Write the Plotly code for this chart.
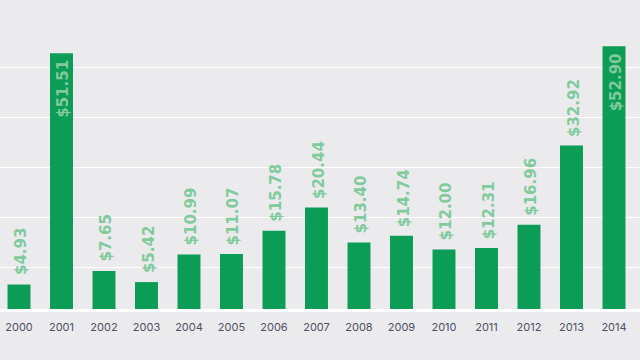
import plotly.graph_objects as go

years = [2000, 2001, 2002, 2003, 2004, 2005, 2006, 2007, 2008, 2009, 2010, 2011, 2012, 2013, 2014]
values = [4.93, 51.51, 7.65, 5.42, 10.99, 11.07, 15.78, 20.44, 13.40, 14.74, 12.00, 12.31, 16.96, 32.92, 52.90]
labels = ["$%.2f" % v for v in values]

BAR = "#0b9c56"
LABEL = "#80ca9c"
BG = "#ebebee"

fig = go.Figure()
fig.add_trace(go.Bar(x=years, y=values, marker=dict(color=BAR, line=dict(width=0)),
                     width=0.54, hoverinfo="skip"))

for x, v, t in zip(years, values, labels):
    inside = v > 45
    fig.add_annotation(x=x, y=v, xref="x", yref="y", text=t, showarrow=False,
                       textangle=-90, xanchor="center", xshift=2,
                       yanchor="top" if inside else "bottom",
                       yshift=-5 if inside else 7,
                       font=dict(family="DejaVu Sans, sans-serif", size=15,
                                 color=LABEL, weight="bold"))

fig.update_layout(
    width=640, height=360,
    margin=dict(l=0, r=0, t=26, b=51),
    paper_bgcolor=BG, plot_bgcolor=BG,
    showlegend=False,
    bargap=0.46,
    xaxis=dict(range=[1999.553, 2014.612], tickmode="array", tickvals=years,
               ticktext=[str(y) for y in years], showgrid=False, zeroline=False,
               showline=True, linecolor="#ffffff", linewidth=2.5, ticks="",
               ticklabelstandoff=6,
               tickfont=dict(family="Inter, Lato, sans-serif", size=11, color="#4f5061"),
               fixedrange=True),
    yaxis=dict(range=[0, 57], showticklabels=False, showgrid=True, gridcolor="#ffffff",
               gridwidth=1, tick0=8.3, dtick=10.1, zeroline=False, fixedrange=True),
)

fig.write_html("out.html", config={"displayModeBar": False},
               post_script="document.body.style.margin='0';document.body.style.padding='0';"
                           "document.body.style.background='#ebebee';document.body.style.overflow='hidden';")
